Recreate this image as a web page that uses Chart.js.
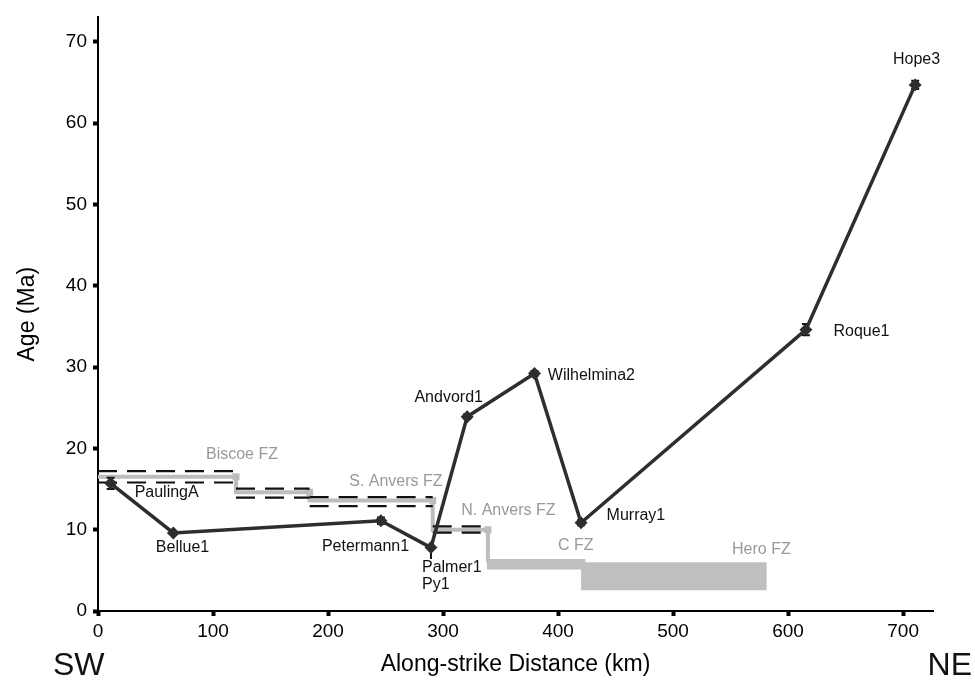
<!DOCTYPE html>
<html>
<head>
<meta charset="utf-8">
<script src="https://cdn.jsdelivr.net/npm/chart.js@4"></script>
<style>
  html, body { margin: 0; padding: 0; background: #fff; }
  canvas { display: block; }
</style>
</head>
<body>
<canvas id="chart" width="975" height="682"></canvas>
<script>
// samples along the margin
const SAMPLE_NAMES = ['PaulingA', 'Bellue1', 'Petermann1', 'Palmer1\nPy1', 'Andvord1', 'Wilhelmina2', 'Murray1', 'Roque1', 'Hope3'];
const SAMPLE_KM = [11, 65.5, 246, 289.5, 321, 379.5, 420, 615.5, 710.5];
const SAMPLE_AGE = [15.7, 9.6, 11.1, 7.8, 23.9, 29.2, 10.85, 34.6, 64.7];
const ERR_LO = [0.7, 0, 0.4, 1.4, 0.3, 0.3, 0.3, 0.7, 0.5];
const ERR_HI = [0.7, 0, 0.4, 0, 0.3, 0.3, 0.3, 0.7, 0.5];
// where each sample name sits (km, Ma)
const LABEL_KM = [59.7, 73.5, 232.6, 281.7, 304.9, 429, 467.7, 663.8, 711.7];
const LABEL_AGE = [14.5, 7.8, 7.96, 5.3, 26.3, 29.0, 11.76, 34.3, 67.8];

// fracture-zone age steps
const STEP_KM = [0, 120, 184, 291, 339];
const STEP_AGE = [16.5, 14.6, 13.6, 10.0];
const STEP_HI = [17.2, 15.05, 14.0, 10.4];
const STEP_LO = [15.8, 13.95, 12.9, 9.65];
const STEP_END = 6.0;

// shaded age ranges
const C_KM = [338, 424];
const C_AGE = [5.1, 6.4];
const HERO_KM = [420, 581.5];
const HERO_AGE = [2.55, 6.0];

const FZ_NAMES = ['Biscoe FZ', 'S. Anvers FZ', 'N. Anvers FZ', 'C FZ', 'Hero FZ'];
const FZ_KM = [125.2, 259, 356.8, 415.4, 576.8];
const FZ_AGE = [19.2, 15.9, 12.3, 8.0, 7.5];

const X_TICKS = [0, 100, 200, 300, 400, 500, 600, 700];
const Y_TICKS = [0, 10, 20, 30, 40, 50, 60, 70];

const FONT = '"Liberation Sans", Arial, Helvetica, sans-serif';

// build line data
const samplePts = SAMPLE_KM.map((x, i) => ({ x, y: SAMPLE_AGE[i] }));

const errPts = [];
SAMPLE_KM.forEach((x, i) => {
  errPts.push({ x, y: SAMPLE_AGE[i] - ERR_LO[i] });
  errPts.push({ x, y: SAMPLE_AGE[i] + ERR_HI[i] });
  errPts.push({ x, y: null });
});

const stepPts = [];
STEP_AGE.forEach((a, i) => {
  stepPts.push({ x: STEP_KM[i], y: a });
  stepPts.push({ x: STEP_KM[i + 1], y: a });
});
stepPts.push({ x: STEP_KM[STEP_KM.length - 1], y: STEP_END });

const bound = (arr) => {
  const out = [];
  arr.forEach((a, i) => {
    out.push({ x: STEP_KM[i], y: a });
    out.push({ x: STEP_KM[i + 1], y: a });
    out.push({ x: STEP_KM[i + 1], y: null });
  });
  return out;
};

const textLayer = {
  id: 'textLayer',
  afterDatasetsDraw(chart) {
    const { ctx, scales: { x, y } } = chart;
    ctx.save();
    ctx.textBaseline = 'middle';
    ctx.font = '16px ' + FONT;
    ctx.fillStyle = '#999';
    ctx.textAlign = 'center';
    FZ_NAMES.forEach((t, i) => ctx.fillText(t, x.getPixelForValue(FZ_KM[i]), y.getPixelForValue(FZ_AGE[i])));
    ctx.fillStyle = '#111';
    SAMPLE_NAMES.forEach((t, i) => {
      const lines = t.split('\n');
      const px = x.getPixelForValue(LABEL_KM[i]);
      const py = y.getPixelForValue(LABEL_AGE[i]);
      ctx.textAlign = lines.length > 1 ? 'left' : 'center';
      lines.forEach((l, k) => ctx.fillText(l, px, py + k * 17));
    });
    ctx.font = '32px ' + FONT;
    ctx.textAlign = 'left';
    ctx.fillText('SW', 53, 666);
    ctx.textAlign = 'right';
    ctx.fillText('NE', 972, 666);
    ctx.restore();
  }
};

new Chart(document.getElementById('chart'), {
  type: 'line',
  data: {
    datasets: [
      {
        data: samplePts,
        borderColor: '#2e2e2e',
        backgroundColor: '#2e2e2e',
        borderWidth: 3.5,
        pointStyle: 'rectRot',
        pointRadius: 4,
        order: 0,
      },
      {
        data: errPts,
        borderColor: '#111',
        borderWidth: 2,
        pointStyle: 'line',
        pointBorderColor: '#111',
        pointBorderWidth: 2,
        pointRadius: (c) => {
          const i = Math.floor(c.dataIndex / 3);
          return c.dataIndex % 3 !== 2 && ERR_LO[i] > 0 && ERR_HI[i] > 0 ? 4 : 0;
        },
        spanGaps: false,
        order: 1,
      },
      {
        data: bound(STEP_HI),
        borderColor: '#111',
        borderWidth: 2.2,
        borderDash: [19, 10],
        pointRadius: 0,
        spanGaps: false,
        order: 2,
      },
      {
        data: bound(STEP_LO),
        borderColor: '#111',
        borderWidth: 2.2,
        borderDash: [19, 10],
        pointRadius: 0,
        spanGaps: false,
        order: 2,
      },
      {
        data: stepPts,
        borderColor: '#bdbdbd',
        backgroundColor: '#bdbdbd',
        borderWidth: 4,
        pointStyle: 'rect',
        pointRadius: (c) => (c.dataIndex % 2 === 1 ? 5 : 0),
        pointBorderWidth: 0,
        order: 3,
      },
      {
        data: C_KM.map((x) => ({ x, y: C_AGE[1] })),
        borderWidth: 0,
        pointRadius: 0,
        backgroundColor: '#bfbfbf',
        fill: { value: C_AGE[0] },
        order: 4,
      },
      {
        data: HERO_KM.map((x) => ({ x, y: HERO_AGE[1] })),
        borderWidth: 0,
        pointRadius: 0,
        backgroundColor: '#bfbfbf',
        fill: { value: HERO_AGE[0] },
        order: 4,
      },
    ],
  },
  options: {
    responsive: false,
    animation: false,
    devicePixelRatio: 1,
    events: [],
    layout: { padding: { top: 11, right: 42, left: 0, bottom: 0 } },
    plugins: { legend: { display: false }, tooltip: { enabled: false } },
    scales: {
      x: {
        type: 'linear',
        min: 0,
        max: 726,
        afterFit: (s) => { s.height = 71; },
        afterBuildTicks: (s) => { s.ticks = X_TICKS.map((v) => ({ value: v })); },
        ticks: { color: '#000', font: { family: FONT, size: 19 }, padding: 4, maxRotation: 0 },
        grid: { drawOnChartArea: false, drawTicks: true, tickLength: 5, tickWidth: 4, tickColor: '#000' },
        border: { display: true, color: '#000', width: 2 },
        title: { display: true, text: 'Along-strike Distance (km)', color: '#000', font: { family: FONT, size: 23 }, padding: { top: 0, bottom: 4 } },
      },
      y: {
        type: 'linear',
        min: 0,
        max: 73,
        afterFit: (s) => { s.width = 98; },
        afterBuildTicks: (s) => { s.ticks = Y_TICKS.map((v) => ({ value: v })); },
        ticks: { color: '#000', font: { family: FONT, size: 19 }, padding: 6 },
        grid: { drawOnChartArea: false, drawTicks: true, tickLength: 5, tickWidth: 4, tickColor: '#000' },
        border: { display: true, color: '#000', width: 2 },
        title: { display: true, text: 'Age (Ma)', color: '#000', font: { family: FONT, size: 23 }, padding: { top: 14, bottom: 0 } },
      },
    },
  },
  plugins: [textLayer],
});
</script>
</body>
</html>
